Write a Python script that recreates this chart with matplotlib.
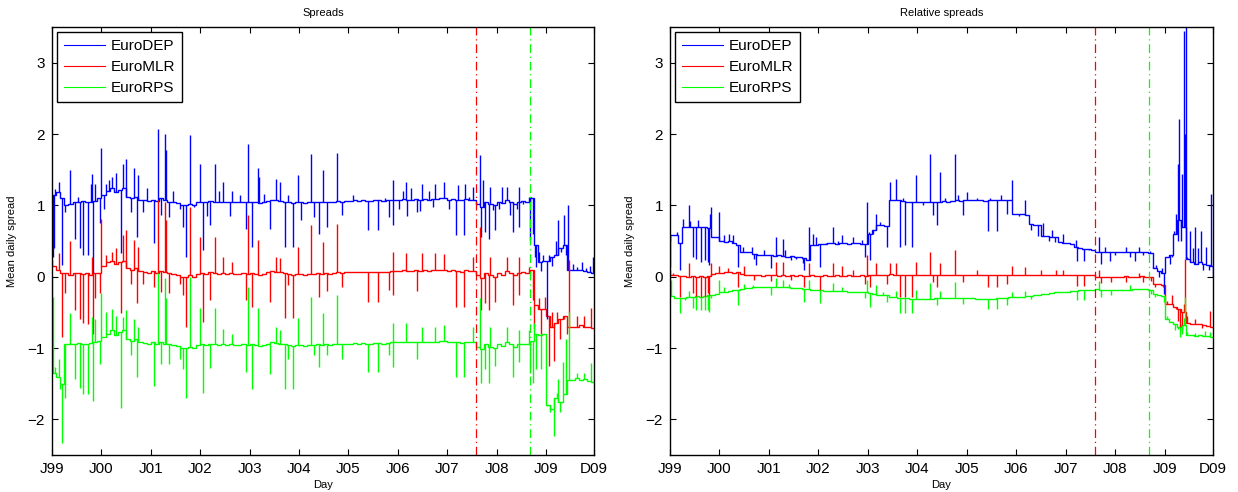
import numpy as np
import matplotlib
matplotlib.use("Agg")
import matplotlib.pyplot as plt

plt.rcParams['font.family'] = ['Liberation Sans', 'DejaVu Sans']

# monthly levels, Jan 1999 .. Dec 2009 (12 values per row)
dep_spread = [
    1.15, 1.18, 1.10, 1.00, 1.02, 1.05, 1.05, 1.06, 1.04, 1.05, 1.06, 1.10,
    1.15, 1.20, 1.25, 1.18, 1.22, 1.25, 1.12, 1.10, 1.12, 1.08, 1.07, 1.06,
    1.08, 1.06, 1.10, 1.07, 1.05, 1.04, 1.03, 1.00, 1.00, 1.02, 1.00, 1.04,
    1.05, 1.04, 1.06, 1.05, 1.04, 1.05, 1.04, 1.05, 1.04, 1.04, 1.05, 1.04,
    1.05, 1.04, 1.03, 1.04, 1.06, 1.08, 1.07, 1.06, 1.05, 1.04, 1.03, 1.04,
    1.04, 1.03, 1.04, 1.04, 1.05, 1.04, 1.05, 1.04, 1.05, 1.06, 1.05, 1.06,
    1.06, 1.07, 1.06, 1.07, 1.06, 1.06, 1.07, 1.07, 1.06, 1.07, 1.08, 1.08,
    1.08, 1.09, 1.08, 1.08, 1.09, 1.08, 1.09, 1.08, 1.09, 1.09, 1.10, 1.10,
    1.08, 1.09, 1.08, 1.07, 1.09, 1.08, 1.08, 1.02, 0.98, 1.05, 1.02, 1.00,
    1.05, 1.03, 1.08, 1.05, 1.02, 1.05, 1.06, 1.05, 1.10, 0.45, 0.20, 0.22,
    0.22, 0.28, 0.30, 0.40, 0.45, 0.10, 0.10, 0.10, 0.09, 0.08, 0.07, 0.05]
mlr_spread = [
    0.15, 0.10, 0.05, 0.05, 0.03, 0.05, 0.05, 0.04, 0.05, 0.03, 0.05, 0.05,
    0.15, 0.20, 0.22, 0.18, 0.20, 0.22, 0.12, 0.10, 0.12, 0.08, 0.07, 0.05,
    0.08, 0.05, 0.08, 0.06, 0.05, 0.04, 0.03, 0.00, 0.00, 0.02, 0.00, 0.04,
    0.05, 0.04, 0.06, 0.05, 0.04, 0.05, 0.04, 0.05, 0.04, 0.04, 0.05, 0.04,
    0.05, 0.04, 0.03, 0.04, 0.06, 0.08, 0.07, 0.06, 0.05, 0.04, 0.03, 0.04,
    0.04, 0.03, 0.04, 0.04, 0.05, 0.04, 0.05, 0.04, 0.05, 0.06, 0.05, 0.06,
    0.06, 0.07, 0.06, 0.07, 0.06, 0.06, 0.07, 0.07, 0.06, 0.07, 0.08, 0.08,
    0.08, 0.09, 0.08, 0.08, 0.09, 0.08, 0.09, 0.08, 0.09, 0.09, 0.10, 0.10,
    0.08, 0.09, 0.08, 0.07, 0.09, 0.08, 0.08, 0.02, -0.02, 0.05, 0.02, 0.00,
    0.05, 0.03, 0.08, 0.05, 0.02, 0.05, 0.06, 0.05, 0.10, -0.40, -0.45, -0.45,
    -0.55, -0.70, -0.65, -0.60, -0.55, -0.70, -0.70, -0.70, -0.68, -0.70, -0.70, -0.72]
rps_spread = [
    -1.35, -1.40, -1.50, -0.95, -0.95, -0.95, -0.93, -0.95, -0.95, -0.93, -0.92, -0.90,
    -0.85, -0.80, -0.75, -0.82, -0.78, -0.75, -0.88, -0.90, -0.88, -0.92, -0.93, -0.94,
    -0.92, -0.95, -0.92, -0.94, -0.95, -0.96, -0.97, -1.00, -1.00, -0.98, -1.00, -0.96,
    -0.95, -0.96, -0.94, -0.95, -0.96, -0.95, -0.96, -0.95, -0.96, -0.96, -0.95, -0.96,
    -0.95, -0.96, -0.97, -0.96, -0.94, -0.92, -0.93, -0.94, -0.95, -0.96, -0.97, -0.96,
    -0.96, -0.97, -0.96, -0.96, -0.95, -0.96, -0.95, -0.96, -0.95, -0.94, -0.95, -0.94,
    -0.94, -0.93, -0.94, -0.93, -0.94, -0.94, -0.93, -0.93, -0.94, -0.93, -0.92, -0.92,
    -0.92, -0.91, -0.92, -0.92, -0.91, -0.92, -0.91, -0.92, -0.91, -0.91, -0.90, -0.90,
    -0.92, -0.91, -0.92, -0.93, -0.91, -0.92, -0.92, -0.98, -1.02, -0.95, -0.98, -1.00,
    -0.95, -0.97, -0.92, -0.95, -0.98, -0.95, -0.94, -0.95, -0.90, -0.80, -0.82, -0.80,
    -1.80, -1.85, -1.70, -1.75, -1.65, -1.45, -1.45, -1.42, -1.45, -1.44, -1.46, -1.48]

dep_rel = [
    0.58, 0.58, 0.47, 0.70, 0.70, 0.70, 0.70, 0.69, 0.70, 0.68, 0.56, 0.56,
    0.50, 0.48, 0.50, 0.47, 0.45, 0.35, 0.35, 0.35, 0.32, 0.30, 0.30, 0.30,
    0.30, 0.29, 0.30, 0.29, 0.28, 0.29, 0.28, 0.28, 0.26, 0.24, 0.45, 0.45,
    0.46, 0.46, 0.47, 0.47, 0.46, 0.47, 0.47, 0.46, 0.47, 0.47, 0.46, 0.46,
    0.60, 0.65, 0.72, 0.72, 0.71, 1.08, 1.08, 1.07, 1.06, 1.05, 1.04, 1.05,
    1.04, 1.04, 1.05, 1.04, 1.05, 1.05, 1.06, 1.05, 1.06, 1.07, 1.06, 1.07,
    1.07, 1.08, 1.07, 1.08, 1.06, 1.07, 1.08, 1.07, 1.08, 1.08, 1.07, 0.88,
    0.88, 0.88, 0.86, 0.74, 0.73, 0.72, 0.57, 0.57, 0.56, 0.55, 0.48, 0.47,
    0.47, 0.46, 0.42, 0.40, 0.39, 0.39, 0.38, 0.35, 0.35, 0.34, 0.34, 0.35,
    0.34, 0.35, 0.34, 0.35, 0.34, 0.35, 0.34, 0.35, 0.33, 0.12, 0.08, 0.05,
    0.27, 0.30, 0.60, 0.80, 0.70, 0.25, 0.20, 0.18, 0.20, 0.18, 0.17, 0.15]
mlr_rel = [
    0.03, 0.02, 0.01, 0.01, 0.00, 0.01, 0.00, 0.01, 0.00, 0.01, 0.04, 0.05,
    0.05, 0.07, 0.06, 0.05, 0.07, 0.04, 0.03, 0.02, 0.02, 0.02, 0.01, 0.02,
    0.02, 0.02, 0.01, 0.02, 0.01, 0.02, 0.01, 0.02, 0.01, 0.01, 0.02, 0.01,
    0.01, 0.02, 0.01, 0.01, 0.02, 0.01, 0.01, 0.02, 0.01, 0.01, 0.02, 0.01,
    0.02, 0.03, 0.02, 0.02, 0.03, 0.04, 0.03, 0.02, 0.03, 0.02, 0.02, 0.03,
    0.02, 0.03, 0.02, 0.03, 0.02, 0.03, 0.03, 0.02, 0.03, 0.03, 0.02, 0.03,
    0.03, 0.02, 0.03, 0.03, 0.02, 0.03, 0.03, 0.02, 0.03, 0.02, 0.03, 0.02,
    0.03, 0.02, 0.03, 0.02, 0.03, 0.02, 0.03, 0.02, 0.03, 0.02, 0.03, 0.02,
    0.02, 0.03, 0.02, 0.03, 0.02, 0.03, 0.02, 0.00, 0.00, -0.01, 0.00, -0.01,
    0.00, -0.01, 0.01, 0.00, -0.01, 0.00, 0.01, 0.00, 0.00, -0.10, -0.10, -0.12,
    -0.38, -0.38, -0.42, -0.45, -0.50, -0.65, -0.66, -0.67, -0.66, -0.68, -0.69, -0.70]
rps_rel = [
    -0.27, -0.30, -0.30, -0.30, -0.28, -0.28, -0.27, -0.28, -0.27, -0.26, -0.25, -0.24,
    -0.22, -0.21, -0.20, -0.19, -0.18, -0.17, -0.16, -0.16, -0.15, -0.15, -0.15, -0.15,
    -0.15, -0.15, -0.15, -0.15, -0.15, -0.16, -0.16, -0.16, -0.17, -0.17, -0.18, -0.19,
    -0.19, -0.20, -0.20, -0.20, -0.20, -0.20, -0.20, -0.21, -0.21, -0.21, -0.21, -0.21,
    -0.23, -0.24, -0.25, -0.26, -0.26, -0.28, -0.29, -0.30, -0.30, -0.30, -0.31, -0.31,
    -0.31, -0.31, -0.31, -0.31, -0.30, -0.30, -0.30, -0.30, -0.30, -0.30, -0.30, -0.30,
    -0.30, -0.30, -0.31, -0.31, -0.31, -0.31, -0.31, -0.30, -0.30, -0.30, -0.29, -0.29,
    -0.28, -0.28, -0.27, -0.27, -0.26, -0.25, -0.24, -0.24, -0.23, -0.22, -0.22, -0.21,
    -0.21, -0.20, -0.20, -0.19, -0.19, -0.18, -0.18, -0.17, -0.18, -0.18, -0.19, -0.18,
    -0.18, -0.18, -0.18, -0.18, -0.17, -0.17, -0.17, -0.17, -0.18, -0.24, -0.25, -0.27,
    -0.60, -0.64, -0.66, -0.70, -0.68, -0.82, -0.82, -0.83, -0.82, -0.83, -0.83, -0.84]

# single-day spikes: (decimal year, value)
dep_spread_spikes = [
    (1999.00, 0.45), (1999.02, 0.28), (1999.04, 0.40), (1999.07, 1.23), (1999.14, 1.33),
    (1999.20, 0.16), (1999.27, 0.90), (1999.37, 1.50), (1999.47, 0.53), (1999.53, 1.12),
    (1999.56, 0.40), (1999.63, 0.30), (1999.72, 0.30), (1999.78, 1.30), (1999.81, 1.44),
    (1999.82, 0.05), (1999.87, 1.30), (1999.97, 0.75), (2000.00, 1.81), (2000.05, 0.95),
    (2000.10, 1.30), (2000.16, 1.35), (2000.22, 1.40), (2000.30, 1.45), (2000.39, 0.33),
    (2000.44, 1.58), (2000.50, 1.65), (2000.60, 0.90), (2000.66, 1.53), (2000.72, 0.56),
    (2000.75, 1.42), (2000.85, 0.90), (2000.93, 1.25), (2001.06, 0.47), (2001.14, 2.07),
    (2001.21, 0.86), (2001.28, 2.00), (2001.31, 1.77), (2001.36, 0.84), (2001.45, 1.20),
    (2001.60, 0.95), (2001.66, 0.70), (2001.72, 0.28), (2001.80, 1.98), (2001.88, 0.98),
    (2002.00, 1.58), (2002.05, 0.37), (2002.13, 0.85), (2002.20, 0.72), (2002.29, 1.58),
    (2002.38, 1.20), (2002.47, 1.33), (2002.60, 0.85), (2002.65, 1.20), (2002.80, 1.15),
    (2002.92, 0.67), (2002.97, 1.86), (2003.04, 0.42), (2003.16, 1.53), (2003.19, 1.40),
    (2003.29, 1.16), (2003.41, 0.67), (2003.53, 1.37), (2003.62, 1.33), (2003.72, 0.42),
    (2003.78, 1.14), (2003.88, 0.42), (2003.97, 1.42), (2004.04, 0.80), (2004.25, 1.72),
    (2004.31, 0.84), (2004.40, 0.60), (2004.49, 1.49), (2004.57, 0.70), (2004.76, 1.74),
    (2004.86, 0.86), (2005.10, 1.15), (2005.40, 0.65), (2005.59, 0.65), (2005.74, 1.10),
    (2005.83, 0.84), (2005.90, 1.35), (2005.91, 0.72), (2006.02, 0.95), (2006.10, 1.20),
    (2006.17, 1.33), (2006.18, 0.85), (2006.27, 1.25), (2006.38, 0.90), (2006.45, 0.92),
    (2006.48, 1.30), (2006.64, 1.20), (2006.71, 0.98), (2006.76, 1.30), (2006.94, 1.33),
    (2007.03, 0.95), (2007.18, 0.58), (2007.22, 1.28), (2007.33, 0.58), (2007.36, 1.30),
    (2007.45, 1.12), (2007.53, 1.26), (2007.66, 1.70), (2007.68, 0.56), (2007.72, 1.35),
    (2007.76, 0.63), (2007.84, 0.53), (2007.87, 1.26), (2007.93, 0.93), (2007.97, 0.65),
    (2008.04, 0.95), (2008.11, 1.26), (2008.20, 1.26), (2008.26, 0.86), (2008.33, 0.63),
    (2008.41, 0.95), (2008.45, 1.26), (2008.46, 0.70), (2008.53, 1.02), (2008.65, 1.12),
    (2008.68, 0.51), (2008.70, 1.12), (2008.73, 0.60), (2008.78, 0.28), (2008.80, 0.14),
    (2008.86, 0.35), (2008.90, 0.08), (2008.94, 0.30), (2009.01, -0.60), (2009.05, 0.30),
    (2009.12, 0.15), (2009.20, 0.50), (2009.24, 0.79), (2009.30, 0.35), (2009.36, 0.86),
    (2009.40, 0.30), (2009.45, 1.00), (2009.55, 0.18), (2009.63, 0.14), (2009.72, 0.20),
    (2009.80, 0.12), (2009.88, 0.15), (2009.94, 0.28)]
mlr_spread_spikes = [
    (1999.00, 0.23), (1999.07, 0.15), (1999.14, 0.33), (1999.20, -0.84), (1999.27, -0.23),
    (1999.37, 0.50), (1999.47, -0.47), (1999.56, -0.60), (1999.63, -0.65), (1999.72, -0.67),
    (1999.81, 0.28), (1999.82, -0.80), (1999.87, -0.30), (1999.97, -0.23), (2000.00, 0.81),
    (2000.10, 0.30), (2000.22, 0.35), (2000.30, 0.40), (2000.39, -0.51), (2000.44, 0.58),
    (2000.50, 0.65), (2000.60, -0.10), (2000.66, 0.51), (2000.72, -0.37), (2000.75, 0.42),
    (2000.85, -0.10), (2001.06, -0.15), (2001.14, 1.07), (2001.21, -0.21), (2001.28, 1.05),
    (2001.31, 0.80), (2001.36, -0.23), (2001.60, -0.10), (2001.66, -0.25), (2001.72, -0.70),
    (2001.80, 0.98), (2002.00, 0.56), (2002.05, -0.63), (2002.20, -0.33), (2002.29, 0.56),
    (2002.47, 0.28), (2002.65, 0.20), (2002.92, -0.33), (2002.97, 0.86), (2003.04, -0.42),
    (2003.16, 0.51), (2003.41, -0.35), (2003.53, 0.28), (2003.62, 0.26), (2003.72, -0.58),
    (2003.78, -0.12), (2003.88, -0.58), (2003.97, 0.42), (2004.25, 0.72), (2004.40, -0.28),
    (2004.49, 0.49), (2004.57, -0.20), (2004.76, 0.74), (2004.86, -0.14), (2005.40, -0.35),
    (2005.59, -0.35), (2005.83, -0.18), (2005.90, 0.35), (2005.91, -0.26), (2006.17, 0.33),
    (2006.38, -0.20), (2006.48, 0.33), (2006.76, 0.33), (2006.94, 0.32), (2007.18, -0.42),
    (2007.33, -0.42), (2007.53, 0.28), (2007.66, 0.70), (2007.68, -0.47), (2007.76, -0.37),
    (2007.84, -0.47), (2007.87, 0.28), (2007.97, -0.35), (2008.20, 0.28), (2008.33, -0.40),
    (2008.45, 0.28), (2008.46, -0.25), (2008.65, 0.14), (2008.73, -0.33), (2008.76, -0.74),
    (2008.85, -0.30), (2008.90, -0.80), (2008.97, -0.28), (2009.05, -1.25), (2009.12, -0.50),
    (2009.17, -1.18), (2009.22, -0.50), (2009.28, -0.88), (2009.36, -0.60), (2009.42, -0.80),
    (2009.46, 0.23), (2009.63, -0.55), (2009.76, -0.55), (2009.91, -0.44)]
rps_spread_spikes = [
    (1999.00, -0.02), (1999.02, -0.28), (1999.07, -1.26), (1999.14, -1.16), (1999.17, -1.58),
    (1999.20, -2.33), (1999.23, -1.50), (1999.26, -1.70), (1999.37, -0.51), (1999.47, -1.44),
    (1999.56, -1.56), (1999.63, -1.65), (1999.72, -1.65), (1999.81, -0.56), (1999.82, -1.74),
    (1999.87, -0.60), (1999.97, -1.23), (2000.00, -0.23), (2000.10, -0.50), (2000.22, -0.45),
    (2000.30, -0.55), (2000.39, -1.84), (2000.44, -0.56), (2000.50, -0.47), (2000.60, -1.10),
    (2000.66, -0.60), (2000.72, -1.40), (2000.75, -0.70), (2001.06, -1.53), (2001.14, 0.05),
    (2001.21, -1.23), (2001.28, -0.02), (2001.31, -0.30), (2001.36, -1.23), (2001.60, -1.15),
    (2001.66, -1.30), (2001.72, -1.70), (2001.80, 0.00), (2002.00, -0.44), (2002.05, -1.63),
    (2002.20, -1.28), (2002.29, -0.44), (2002.47, -0.74), (2002.65, -0.80), (2002.92, -1.33),
    (2002.97, -0.14), (2003.04, -1.58), (2003.16, -0.44), (2003.41, -1.37), (2003.53, -0.70),
    (2003.62, -0.75), (2003.72, -1.58), (2003.78, -1.15), (2003.88, -1.58), (2003.97, -0.58),
    (2004.25, -0.28), (2004.31, -1.10), (2004.40, -1.26), (2004.49, -0.51), (2004.57, -1.10),
    (2004.76, -0.26), (2004.86, -1.15), (2005.40, -1.33), (2005.59, -1.33), (2005.83, -1.10),
    (2005.90, -0.65), (2005.91, -1.26), (2006.17, -0.65), (2006.38, -1.15), (2006.48, -0.70),
    (2006.76, -0.70), (2006.94, -0.68), (2007.18, -1.40), (2007.33, -1.40), (2007.53, -0.70),
    (2007.66, -0.30), (2007.68, -1.49), (2007.76, -1.30), (2007.84, -1.49), (2007.87, -0.70),
    (2007.97, -1.25), (2008.20, -0.70), (2008.33, -1.40), (2008.45, -0.75), (2008.46, -1.20),
    (2008.65, -0.75), (2008.68, -1.35), (2008.73, -1.49), (2008.76, -0.65), (2008.80, -1.30),
    (2008.85, -0.80), (2008.90, -1.30), (2009.02, -1.81), (2009.08, -1.90), (2009.17, -2.23),
    (2009.22, -1.63), (2009.25, -1.44), (2009.28, -1.90), (2009.35, -1.20), (2009.40, -0.88),
    (2009.46, -0.50), (2009.63, -1.35), (2009.76, -1.35), (2009.91, -1.21)]

dep_rel_spikes = [
    (1999.00, 0.14), (1999.01, 0.50), (1999.15, 0.62), (1999.21, 0.09), (1999.26, 0.81),
    (1999.38, 1.00), (1999.41, 0.78), (1999.46, 0.28), (1999.53, 0.25), (1999.56, 0.80),
    (1999.63, 0.21), (1999.70, 0.23), (1999.76, 0.21), (1999.79, 0.16), (1999.80, 0.88),
    (1999.83, 0.98), (2000.00, 0.91), (2000.10, 0.58), (2000.20, 0.60), (2000.28, 0.58),
    (2000.38, 0.14), (2000.48, 0.42), (2000.65, 0.42), (2000.70, 0.25), (2000.74, 0.16),
    (2000.90, 0.38), (2001.05, 0.12), (2001.14, 0.56), (2001.28, 0.53), (2001.32, 0.38),
    (2001.45, 0.23), (2001.55, 0.25), (2001.69, 0.19), (2001.70, 0.09), (2001.80, 0.70),
    (2001.88, 0.60), (2001.95, 0.55), (2002.04, 0.14), (2002.15, 0.47), (2002.30, 0.70),
    (2002.40, 0.50), (2002.47, 0.58), (2002.70, 0.56), (2002.88, 0.51), (2002.94, 0.28),
    (2002.97, 1.05), (2003.02, 0.62), (2003.04, 0.23), (2003.10, 0.60), (2003.16, 0.88),
    (2003.25, 0.76), (2003.39, 0.42), (2003.45, 1.33), (2003.56, 1.37), (2003.64, 0.42),
    (2003.70, 1.10), (2003.74, 0.44), (2003.88, 0.42), (2003.97, 1.42), (2004.12, 1.00),
    (2004.26, 1.72), (2004.32, 0.86), (2004.40, 0.72), (2004.46, 1.47), (2004.56, 1.10),
    (2004.76, 1.72), (2004.81, 1.15), (2004.92, 0.86), (2005.00, 1.18), (2005.20, 1.10),
    (2005.43, 0.64), (2005.47, 1.10), (2005.60, 0.64), (2005.68, 1.15), (2005.81, 0.88),
    (2005.91, 1.35), (2006.05, 0.85), (2006.18, 1.07), (2006.30, 0.65), (2006.43, 0.57),
    (2006.53, 0.75), (2006.65, 0.50), (2006.72, 0.66), (2006.78, 0.48), (2006.94, 0.60),
    (2007.20, 0.51), (2007.22, 0.22), (2007.37, 0.22), (2007.47, 0.37), (2007.66, 0.55),
    (2007.71, 0.18), (2007.78, 0.41), (2007.88, 0.22), (2008.00, 0.30), (2008.21, 0.41),
    (2008.30, 0.27), (2008.40, 0.22), (2008.48, 0.41), (2008.55, 0.30), (2008.69, 0.36),
    (2008.75, 0.13), (2008.82, 0.16), (2008.88, 0.00), (2008.94, 0.12), (2008.98, -0.24),
    (2009.10, 0.18), (2009.14, 0.27), (2009.19, 0.64), (2009.22, 0.88), (2009.26, 1.58),
    (2009.27, 0.50), (2009.29, 2.21), (2009.32, 0.50), (2009.35, 1.44), (2009.38, 3.45),
    (2009.40, 0.75), (2009.41, 2.00), (2009.43, 3.60), (2009.45, 0.27), (2009.50, 0.64),
    (2009.56, 0.40), (2009.60, 0.69), (2009.66, 0.40), (2009.72, 0.64), (2009.76, 0.10),
    (2009.82, 0.41), (2009.88, 0.10), (2009.93, 1.16), (2009.96, 0.00)]
mlr_rel_spikes = [
    (1999.00, 0.10), (1999.07, 0.05), (1999.21, -0.28), (1999.38, 0.19), (1999.46, -0.23),
    (1999.53, -0.28), (1999.63, -0.28), (1999.70, -0.28), (1999.76, -0.23), (1999.79, -0.28),
    (1999.83, 0.19), (2000.00, 0.15), (2000.17, 0.12), (2000.38, -0.14), (2000.50, 0.15),
    (2000.70, -0.05), (2001.05, -0.06), (2001.14, 0.21), (2001.28, 0.21), (2001.45, -0.05),
    (2001.70, -0.14), (2001.80, 0.19), (2002.04, -0.19), (2002.30, 0.19), (2002.47, 0.15),
    (2002.70, 0.10), (2002.94, -0.10), (2002.97, 0.30), (2003.04, -0.14), (2003.16, 0.19),
    (2003.39, -0.10), (2003.45, 0.19), (2003.56, 0.19), (2003.64, -0.28), (2003.74, -0.28),
    (2003.88, -0.28), (2003.97, 0.21), (2004.26, 0.35), (2004.32, -0.07), (2004.40, -0.14),
    (2004.46, 0.19), (2004.76, 0.37), (2004.92, -0.07), (2005.20, 0.10), (2005.43, -0.15),
    (2005.60, -0.15), (2005.81, -0.10), (2005.91, 0.15), (2006.18, 0.13), (2006.50, 0.10),
    (2006.80, 0.10), (2006.94, 0.09), (2007.22, -0.13), (2007.37, -0.13), (2007.66, 0.10),
    (2007.71, -0.09), (2007.90, -0.08), (2008.21, -0.07), (2008.48, 0.05), (2008.55, -0.07),
    (2008.72, -0.06), (2008.80, -0.15), (2008.95, -0.15), (2009.05, -0.34), (2009.15, -0.25),
    (2009.22, -0.45), (2009.26, -0.62), (2009.30, -0.71), (2009.34, -0.76), (2009.38, -0.38),
    (2009.41, 0.25), (2009.45, -0.55), (2009.60, -0.60), (2009.75, -0.72), (2009.90, -0.48)]
rps_rel_spikes = [
    (1999.00, 0.00), (1999.03, -0.05), (1999.21, -0.51), (1999.30, -0.33), (1999.38, -0.20),
    (1999.46, -0.44), (1999.53, -0.47), (1999.63, -0.47), (1999.70, -0.47), (1999.76, -0.47),
    (1999.79, -0.49), (1999.83, -0.30), (2000.00, -0.05), (2000.10, -0.15), (2000.38, -0.40),
    (2000.50, -0.10), (2000.68, -0.12), (2001.05, -0.26), (2001.14, -0.02), (2001.28, -0.04),
    (2001.40, -0.10), (2001.70, -0.35), (2001.80, -0.05), (2002.04, -0.37), (2002.30, -0.09),
    (2002.47, -0.14), (2002.94, -0.30), (2002.97, -0.05), (2003.04, -0.42), (2003.16, -0.12),
    (2003.30, -0.22), (2003.39, -0.35), (2003.56, -0.20), (2003.64, -0.51), (2003.74, -0.51),
    (2003.88, -0.51), (2003.97, -0.18), (2004.26, -0.09), (2004.32, -0.32), (2004.40, -0.40),
    (2004.46, -0.20), (2004.76, -0.07), (2004.92, -0.38), (2005.43, -0.45), (2005.60, -0.45),
    (2005.81, -0.40), (2005.91, -0.22), (2006.18, -0.20), (2006.30, -0.32), (2007.22, -0.33),
    (2007.37, -0.33), (2007.66, -0.06), (2007.71, -0.28), (2007.90, -0.26), (2008.30, -0.12),
    (2008.72, -0.24), (2008.80, -0.29), (2008.98, -0.36), (2009.05, -0.55), (2009.20, -0.75),
    (2009.26, -0.73), (2009.30, -0.85), (2009.34, -0.80), (2009.38, -0.58), (2009.41, -0.29),
    (2009.45, -0.78), (2009.60, -0.79), (2009.80, -0.76), (2009.90, -0.78)]

names = ['EuroDEP', 'EuroMLR', 'EuroRPS']
colors = ['#0000ff', '#ff0000', '#00ff00']
tick_years = [1999, 2000, 2001, 2002, 2003, 2004, 2005, 2006, 2007, 2008, 2009, 2009.97]
tick_labels = ['J99', 'J00', 'J01', 'J02', 'J03', 'J04', 'J05', 'J06', 'J07', 'J08', 'J09', 'D09']
events = [(2007.58, '#ff0000'), (2008.67, '#00ff00')]

edges = 1999 + np.arange(133) / 12.0


def draw(ax, levels, spikes, title):
    for vals, sp, c, name in zip(levels, spikes, colors, names):
        vals = np.asarray(vals)
        ax.stairs(vals, edges, baseline=None, color=c, lw=1.0, label=name)
        t = np.array([s[0] for s in sp])
        v = np.array([s[1] for s in sp])
        idx = np.clip(((t - 1999) * 12).astype(int), 0, len(vals) - 1)
        ax.vlines(t, vals[idx], v, color=c, lw=1.0)
    for x, c in events:
        ax.axvline(x, color=c, lw=0.9, ls=(0, (7, 3, 1, 3)))
    ax.set_xlim(1999, 2009.97)
    ax.set_ylim(-2.5, 3.5)
    ax.set_xticks(tick_years)
    ax.set_xticklabels(tick_labels)
    ax.set_yticks([-2, -1, 0, 1, 2, 3])
    ax.set_yticklabels(['\u22122', '\u22121', '0', '1', '2', '3'])
    ax.tick_params(direction='in', length=4, width=0.8, labelsize=11,
                   top=True, right=True, pad=5)
    for sp_ in ax.spines.values():
        sp_.set_linewidth(1.0)
    ax.set_title(title, fontsize=8, pad=8)
    ax.set_xlabel('Day', fontsize=8, labelpad=3)
    ax.set_ylabel('Mean daily spread', fontsize=8, labelpad=8)
    leg = ax.legend(loc='upper left', fontsize=11, fancybox=False, framealpha=1,
                    edgecolor='black', handlelength=2.7, handletextpad=0.35,
                    borderpad=0.45, labelspacing=0.45, borderaxespad=0.35)
    leg.get_frame().set_linewidth(1.0)
    for h in leg.get_lines():
        h.set_linewidth(0.8)


fig = plt.figure(figsize=(12.38, 4.92), dpi=100)
ax1 = fig.add_axes([52 / 1238, 37 / 492, 542 / 1238, 428 / 492])
ax2 = fig.add_axes([670 / 1238, 37 / 492, 543 / 1238, 428 / 492])

draw(ax1, [dep_spread, mlr_spread, rps_spread],
     [dep_spread_spikes, mlr_spread_spikes, rps_spread_spikes], 'Spreads')
draw(ax2, [dep_rel, mlr_rel, rps_rel],
     [dep_rel_spikes, mlr_rel_spikes, rps_rel_spikes], 'Relative spreads')

fig.savefig('out.png', dpi=100)
